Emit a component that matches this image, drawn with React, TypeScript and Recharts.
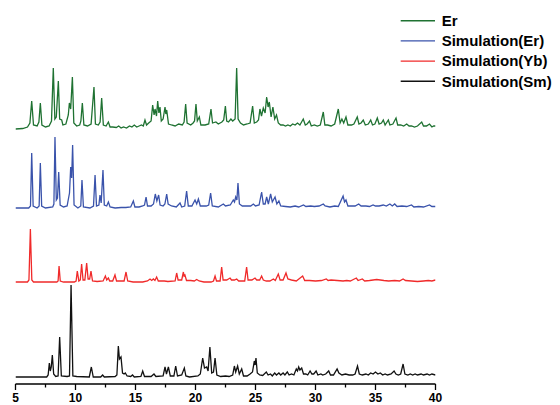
import React from 'react';
import { LineChart, Line, XAxis, YAxis, Legend } from 'recharts';

// 2θ tick values (major every 5°, minor in between)
const X_TICKS = [5, 7.5, 10, 12.5, 15, 17.5, 20, 22.5, 25, 27.5, 30, 32.5, 35, 37.5, 40];
const X_LABELS = [5, 10, 15, 20, 25, 30, 35, 40];

// Legend labels
const SERIES_NAMES = ['Er', 'Simulation(Er)', 'Simulation(Yb)', 'Simulation(Sm)'];

// Patterns: [2θ, intensity (a.u.)]
const erExperimental: [number, number][] = [
  [5, 0], [5.6, 0.5], [6.0, 2], [6.2, 6], [6.35, 28], [6.5, 4], [6.8, 3], [6.95, 7], [7.07, 26], [7.2, 4],
  [7.5, 2], [7.8, 3], [8.0, 8], [8.15, 61], [8.28, 10], [8.4, 12], [8.57, 48], [8.68, 10], [8.85, 9], [8.95, 4],
  [9.2, 5], [9.4, 14], [9.49, 26], [9.6, 20], [9.74, 52], [9.86, 6], [10.1, 3], [10.35, 4], [10.45, 8], [10.57, 26],
  [10.7, 4], [11.0, 3], [11.3, 5], [11.54, 42], [11.66, 5], [11.9, 4], [12.05, 7], [12.18, 31], [12.32, 4], [12.55, 3],
  [12.74, 7], [12.88, 2], [13.1, 2], [13.4, 1.5], [13.6, 3], [13.8, 1], [14.0, 2], [14.25, 1], [14.5, 3], [14.7, 2],
  [14.9, 4], [15.1, 2], [15.3, 3], [15.5, 4], [15.65, 3], [15.79, 9], [15.92, 4], [16.1, 6], [16.3, 8], [16.43, 24],
  [16.55, 14], [16.63, 20], [16.75, 13], [16.85, 28], [16.95, 16], [17.04, 22], [17.15, 8], [17.3, 10], [17.46, 22], [17.53, 15],
  [17.6, 19], [17.75, 5], [18.0, 4], [18.3, 3], [18.6, 5], [18.9, 4], [19.05, 7], [19.18, 25], [19.3, 6], [19.6, 4],
  [19.8, 6], [19.92, 8], [20.04, 25], [20.15, 8], [20.32, 12], [20.45, 4], [20.8, 4], [21.1, 5], [21.29, 20], [21.42, 6],
  [21.7, 7], [21.9, 5], [22.2, 7], [22.35, 9], [22.49, 23], [22.6, 8], [22.75, 7], [22.95, 10], [23.1, 8], [23.3, 10],
  [23.43, 61], [23.55, 10], [23.75, 6], [24.0, 4], [24.3, 5], [24.55, 6], [24.76, 23], [24.9, 6], [25.1, 7], [25.25, 9],
  [25.37, 20], [25.5, 13], [25.65, 21], [25.8, 16], [25.93, 32], [26.05, 22], [26.15, 27], [26.3, 12], [26.45, 22], [26.6, 10],
  [26.75, 14], [26.9, 6], [27.1, 4], [27.3, 4], [27.5, 3], [27.7, 4], [27.9, 3], [28.1, 5], [28.3, 4], [28.5, 6],
  [28.7, 4], [28.98, 10], [29.15, 4], [29.3, 5], [29.5, 8], [29.65, 3], [29.9, 4], [30.15, 3], [30.4, 4], [30.65, 17],
  [30.78, 4], [31.0, 4], [31.3, 3], [31.6, 5], [31.9, 20], [32.05, 6], [32.2, 10], [32.35, 6], [32.54, 12], [32.7, 4],
  [33.0, 4], [33.2, 5], [33.48, 12], [33.62, 5], [33.8, 6], [33.98, 9], [34.15, 4], [34.4, 5], [34.6, 9], [34.75, 4],
  [34.95, 5], [35.15, 11], [35.3, 5], [35.5, 6], [35.65, 9], [35.8, 4], [36.07, 9], [36.2, 4], [36.45, 5], [36.71, 11],
  [36.85, 4], [37.1, 4], [37.35, 3], [37.6, 5], [37.8, 3], [38.0, 3], [38.25, 2], [38.5, 3], [38.85, 7], [39.0, 3],
  [39.25, 3], [39.5, 5], [39.7, 2], [39.85, 3], [40, 3],
];

const simulationEr: [number, number][] = [
  [5, 0], [6.1, 0], [6.25, 2], [6.35, 55], [6.47, 2], [6.8, 0], [6.97, 2], [7.07, 45], [7.18, 2], [7.5, 0],
  [8.1, 1], [8.2, 4], [8.29, 71], [8.4, 8], [8.5, 10], [8.6, 36], [8.72, 3], [9.0, 1], [9.3, 2], [9.5, 15],
  [9.6, 41], [9.68, 30], [9.76, 63], [9.88, 3], [10.2, 0], [10.44, 2], [10.54, 28], [10.66, 1], [11.2, 0], [11.5, 2],
  [11.63, 33], [11.75, 2], [11.95, 3], [12.04, 13], [12.14, 5], [12.29, 38], [12.4, 3], [12.6, 2], [12.74, 6], [12.88, 1],
  [13.3, 0], [13.8, 0.5], [14.2, 0.5], [14.6, 1], [14.82, 7], [14.95, 1], [15.3, 1], [15.6, 2], [15.75, 3], [15.88, 11],
  [16.0, 2], [16.3, 2], [16.5, 4], [16.65, 14], [16.78, 7], [16.93, 13], [17.05, 3], [17.3, 2], [17.45, 4], [17.6, 14],
  [17.72, 4], [18.0, 2], [18.4, 1], [18.71, 5], [18.85, 1], [19.1, 2], [19.26, 17], [19.4, 2], [19.7, 2], [19.96, 8],
  [20.1, 4], [20.24, 9], [20.4, 2], [20.9, 2], [21.1, 3], [21.26, 15], [21.4, 2], [21.9, 1], [22.32, 4], [22.5, 2],
  [22.9, 3], [23.15, 8], [23.25, 6], [23.35, 11], [23.45, 8], [23.54, 25], [23.66, 4], [23.9, 2], [24.3, 2], [24.6, 2],
  [24.82, 4], [25.0, 2], [25.3, 3], [25.51, 16], [25.65, 4], [25.8, 4], [25.93, 11], [26.07, 4], [26.26, 14], [26.4, 6],
  [26.63, 11], [26.78, 4], [26.95, 7], [27.1, 2], [27.5, 1.5], [27.9, 1], [28.3, 2], [28.6, 1], [29.0, 3], [29.2, 1.5],
  [29.6, 2], [29.9, 1.5], [30.3, 2], [30.65, 4], [30.8, 2], [31.2, 1], [31.6, 2], [31.9, 1.5], [32.3, 12], [32.42, 6],
  [32.54, 8], [32.7, 2], [33.0, 2], [33.3, 2], [33.6, 4], [33.8, 2], [34.2, 2], [34.5, 1.5], [34.8, 3], [35.0, 2],
  [35.3, 2], [35.65, 3], [35.9, 2], [36.2, 4], [36.4, 2], [36.6, 4], [36.8, 1.5], [37.2, 2], [37.6, 1.5], [38.0, 3],
  [38.2, 1], [38.6, 1.5], [39.0, 1], [39.5, 3], [39.7, 1.5], [40, 1.5],
];

const simulationYb: [number, number][] = [
  [5, 0], [6.0, 0], [6.12, 2], [6.24, 53], [6.36, 2], [6.5, 0], [8.45, 0], [8.55, 1], [8.63, 16], [8.73, 1],
  [9.0, 0], [9.9, 0], [10.05, 1], [10.15, 11], [10.28, 1], [10.4, 2], [10.51, 18], [10.63, 2], [10.78, 2], [10.93, 19],
  [11.05, 3], [11.18, 3], [11.29, 11], [11.42, 1], [11.8, 0.5], [12.3, 1], [12.49, 6], [12.6, 2], [12.74, 4], [12.85, 1],
  [13.1, 1], [13.29, 7], [13.42, 1], [14.05, 1], [14.21, 10], [14.35, 1], [14.8, 0], [15.6, 0], [16.0, 1], [16.21, 3],
  [16.35, 1.5], [16.49, 3], [16.62, 1.5], [16.76, 5], [16.9, 1], [17.4, 1], [17.7, 0.5], [18.3, 1], [18.43, 9], [18.55, 2],
  [18.85, 2], [18.99, 10], [19.05, 6], [19.12, 7], [19.25, 1.5], [19.6, 1.5], [19.9, 1], [20.1, 2.5], [20.3, 1], [20.7, 0],
  [21.3, 0], [21.5, 1], [21.63, 6], [21.75, 1], [22.05, 1], [22.18, 15], [22.3, 2], [22.6, 2], [22.88, 4], [23.0, 2],
  [23.25, 2], [23.43, 3], [23.6, 1], [24.1, 1], [24.26, 15], [24.38, 2], [24.7, 2], [24.96, 4], [25.1, 2], [25.35, 2],
  [25.51, 6], [25.65, 2], [25.9, 1], [26.2, 1], [26.49, 3], [26.65, 1.5], [26.9, 8], [27.05, 2], [27.3, 2], [27.54, 9],
  [27.7, 3], [28.0, 2], [28.4, 1], [28.93, 6], [29.1, 1.5], [29.5, 1.5], [30.0, 1], [30.5, 1.5], [30.9, 3], [31.05, 1.5],
  [31.3, 2], [31.8, 1.5], [32.3, 1], [32.6, 1.5], [32.9, 1], [33.4, 4], [33.55, 1.5], [33.9, 3], [34.1, 1], [34.5, 1.5],
  [35.1, 2.5], [35.4, 2], [35.7, 1.5], [36.1, 1], [36.6, 1.5], [37.0, 1], [37.3, 3], [37.5, 1.5], [38.0, 1], [38.5, 0.5],
  [39.0, 1], [39.4, 1.5], [39.7, 1], [40, 2],
];

const simulationSm: [number, number][] = [
  [5, 0], [7.6, 0], [7.72, 2], [7.82, 14], [7.9, 6], [7.98, 10], [8.07, 22], [8.18, 3], [8.35, 0.5], [8.55, 1],
  [8.68, 40], [8.82, 1], [9.3, 0.5], [9.5, 1], [9.63, 92], [9.78, 1], [10.1, 0.5], [11.15, 0], [11.32, 10], [11.48, 0],
  [12.1, 0], [12.26, 2], [12.4, 0], [13.3, 0.5], [13.45, 2], [13.57, 31], [13.66, 18], [13.79, 20], [13.92, 4], [14.05, 3],
  [14.15, 4], [14.3, 1], [14.6, 0.5], [14.75, 2], [14.9, 0], [15.45, 0.5], [15.6, 6], [15.75, 0.5], [16.3, 0.5], [16.54, 3],
  [16.7, 0.5], [17.3, 1], [17.46, 10], [17.58, 3], [17.74, 10], [17.9, 1], [18.2, 1], [18.35, 11], [18.5, 1], [18.85, 2],
  [19.07, 9], [19.2, 1], [19.5, 0], [20.2, 1], [20.4, 3], [20.6, 19], [20.75, 9], [20.93, 10], [21.05, 6], [21.2, 30],
  [21.35, 4], [21.5, 5], [21.63, 19], [21.78, 2], [22.1, 0.5], [22.5, 1], [22.8, 0.5], [23.1, 2], [23.24, 11], [23.35, 5],
  [23.51, 11], [23.65, 3], [23.85, 8], [24.0, 1], [24.3, 1], [24.55, 3], [24.75, 5], [24.9, 16], [24.97, 12], [25.04, 19],
  [25.15, 4], [25.35, 2], [25.6, 1.5], [25.9, 5], [26.05, 2], [26.25, 3], [26.4, 1], [26.6, 4], [26.75, 2], [26.95, 4],
  [27.1, 2], [27.3, 4], [27.45, 2], [27.65, 5], [27.8, 2], [28.0, 3], [28.2, 2], [28.4, 8], [28.5, 6], [28.6, 10],
  [28.7, 7], [28.85, 9], [29.0, 3], [29.2, 3], [29.35, 2], [29.55, 6], [29.7, 3], [29.85, 3], [30.05, 6], [30.2, 2],
  [30.45, 3], [30.6, 2], [30.85, 3], [31.1, 6], [31.25, 2], [31.5, 2], [31.8, 8], [31.95, 4], [32.2, 2], [32.5, 3],
  [32.8, 2], [33.1, 2], [33.3, 3], [33.5, 11], [33.65, 3], [33.9, 2], [34.2, 3], [34.4, 2], [34.6, 4], [34.8, 3],
  [35.0, 5], [35.2, 3], [35.4, 4], [35.6, 2], [35.8, 3], [36.0, 2], [36.3, 3], [36.55, 6], [36.7, 3], [36.9, 2],
  [37.1, 3], [37.3, 13], [37.45, 3], [37.7, 2], [37.9, 3], [38.1, 2], [38.3, 3], [38.5, 2], [38.8, 3], [39.0, 2],
  [39.3, 3], [39.5, 2], [39.7, 3], [40, 2],
];

// Vertical stacking offsets (a.u.) used to separate the traces
const OFFSET_ER = 255;
const OFFSET_SIM_ER = 176;
const OFFSET_SIM_YB = 102;
const OFFSET_SIM_SM = 7;

const COLOR_ER = '#1f7232';
const COLOR_SIM_ER = '#3a53ab';
const COLOR_SIM_YB = '#f02a2a';
const COLOR_SIM_SM = '#111111';

const FONT = '"Liberation Sans", Arial, Helvetica, sans-serif';

const build = (pts: [number, number][], offset: number) =>
  pts.map(([x, v]) => ({ x, y: v + offset }));

const series = [
  { name: SERIES_NAMES[0], color: COLOR_ER, data: build(erExperimental, OFFSET_ER) },
  { name: SERIES_NAMES[1], color: COLOR_SIM_ER, data: build(simulationEr, OFFSET_SIM_ER) },
  { name: SERIES_NAMES[2], color: COLOR_SIM_YB, data: build(simulationYb, OFFSET_SIM_YB) },
  { name: SERIES_NAMES[3], color: COLOR_SIM_SM, data: build(simulationSm, OFFSET_SIM_SM) },
];

const AxisTick = (props: any) => {
  const { x, y, payload } = props;
  const v = payload.value as number;
  const major = X_LABELS.includes(v);
  return (
    <g>
      <line x1={x} x2={x} y1={y} y2={y + (major ? 6 : 3.5)} stroke="#000" strokeWidth={1.3} />
      {major && (
        <text x={x} y={y + 18} textAnchor="middle" fontFamily={FONT} fontWeight="bold" fontSize={12} fill="#000">
          {v}
        </text>
      )}
    </g>
  );
};

const LegendContent = () => (
  <svg width={162} height={95} style={{ display: 'block' }}>
    {series.map((s, i) => {
      const cy = 12.7 + i * 20.2;
      return (
        <g key={s.name}>
          <line x1={2.7} x2={37} y1={cy} y2={cy} stroke={s.color} strokeWidth={1.4} />
          <text x={43.7} y={cy + 5.3} fontFamily={FONT} fontWeight="bold" fontSize={15} fill="#000">
            {s.name}
          </text>
        </g>
      );
    })}
  </svg>
);

export default function App() {
  return (
    <div style={{ position: 'absolute', left: 0, top: 0, width: 560, height: 405, background: '#fff' }}>
      <LineChart width={560} height={405} margin={{ top: 20, right: 124.5, bottom: 0, left: 15.5 }}>
        <XAxis
          dataKey="x"
          type="number"
          domain={[5, 40]}
          ticks={X_TICKS}
          interval={0}
          allowDataOverflow
          height={21}
          tickSize={0}
          tickMargin={0}
          tickLine={false}
          axisLine={{ stroke: '#000', strokeWidth: 1.5 }}
          tick={AxisTick}
        />
        <YAxis type="number" domain={[0, 364]} hide allowDataOverflow />
        <Legend
          layout="vertical"
          align="center"
          verticalAlign="middle"
          content={LegendContent}
          wrapperStyle={{ position: 'absolute', left: 398, top: 8, width: 162, height: 95 }}
        />
        {series.map((s) => (
          <Line
            key={s.name}
            data={s.data}
            dataKey="y"
            name={s.name}
            type="linear"
            stroke={s.color}
            strokeWidth={1.3}
            dot={false}
            activeDot={false}
            isAnimationActive={false}
          />
        ))}
      </LineChart>
    </div>
  );
}
